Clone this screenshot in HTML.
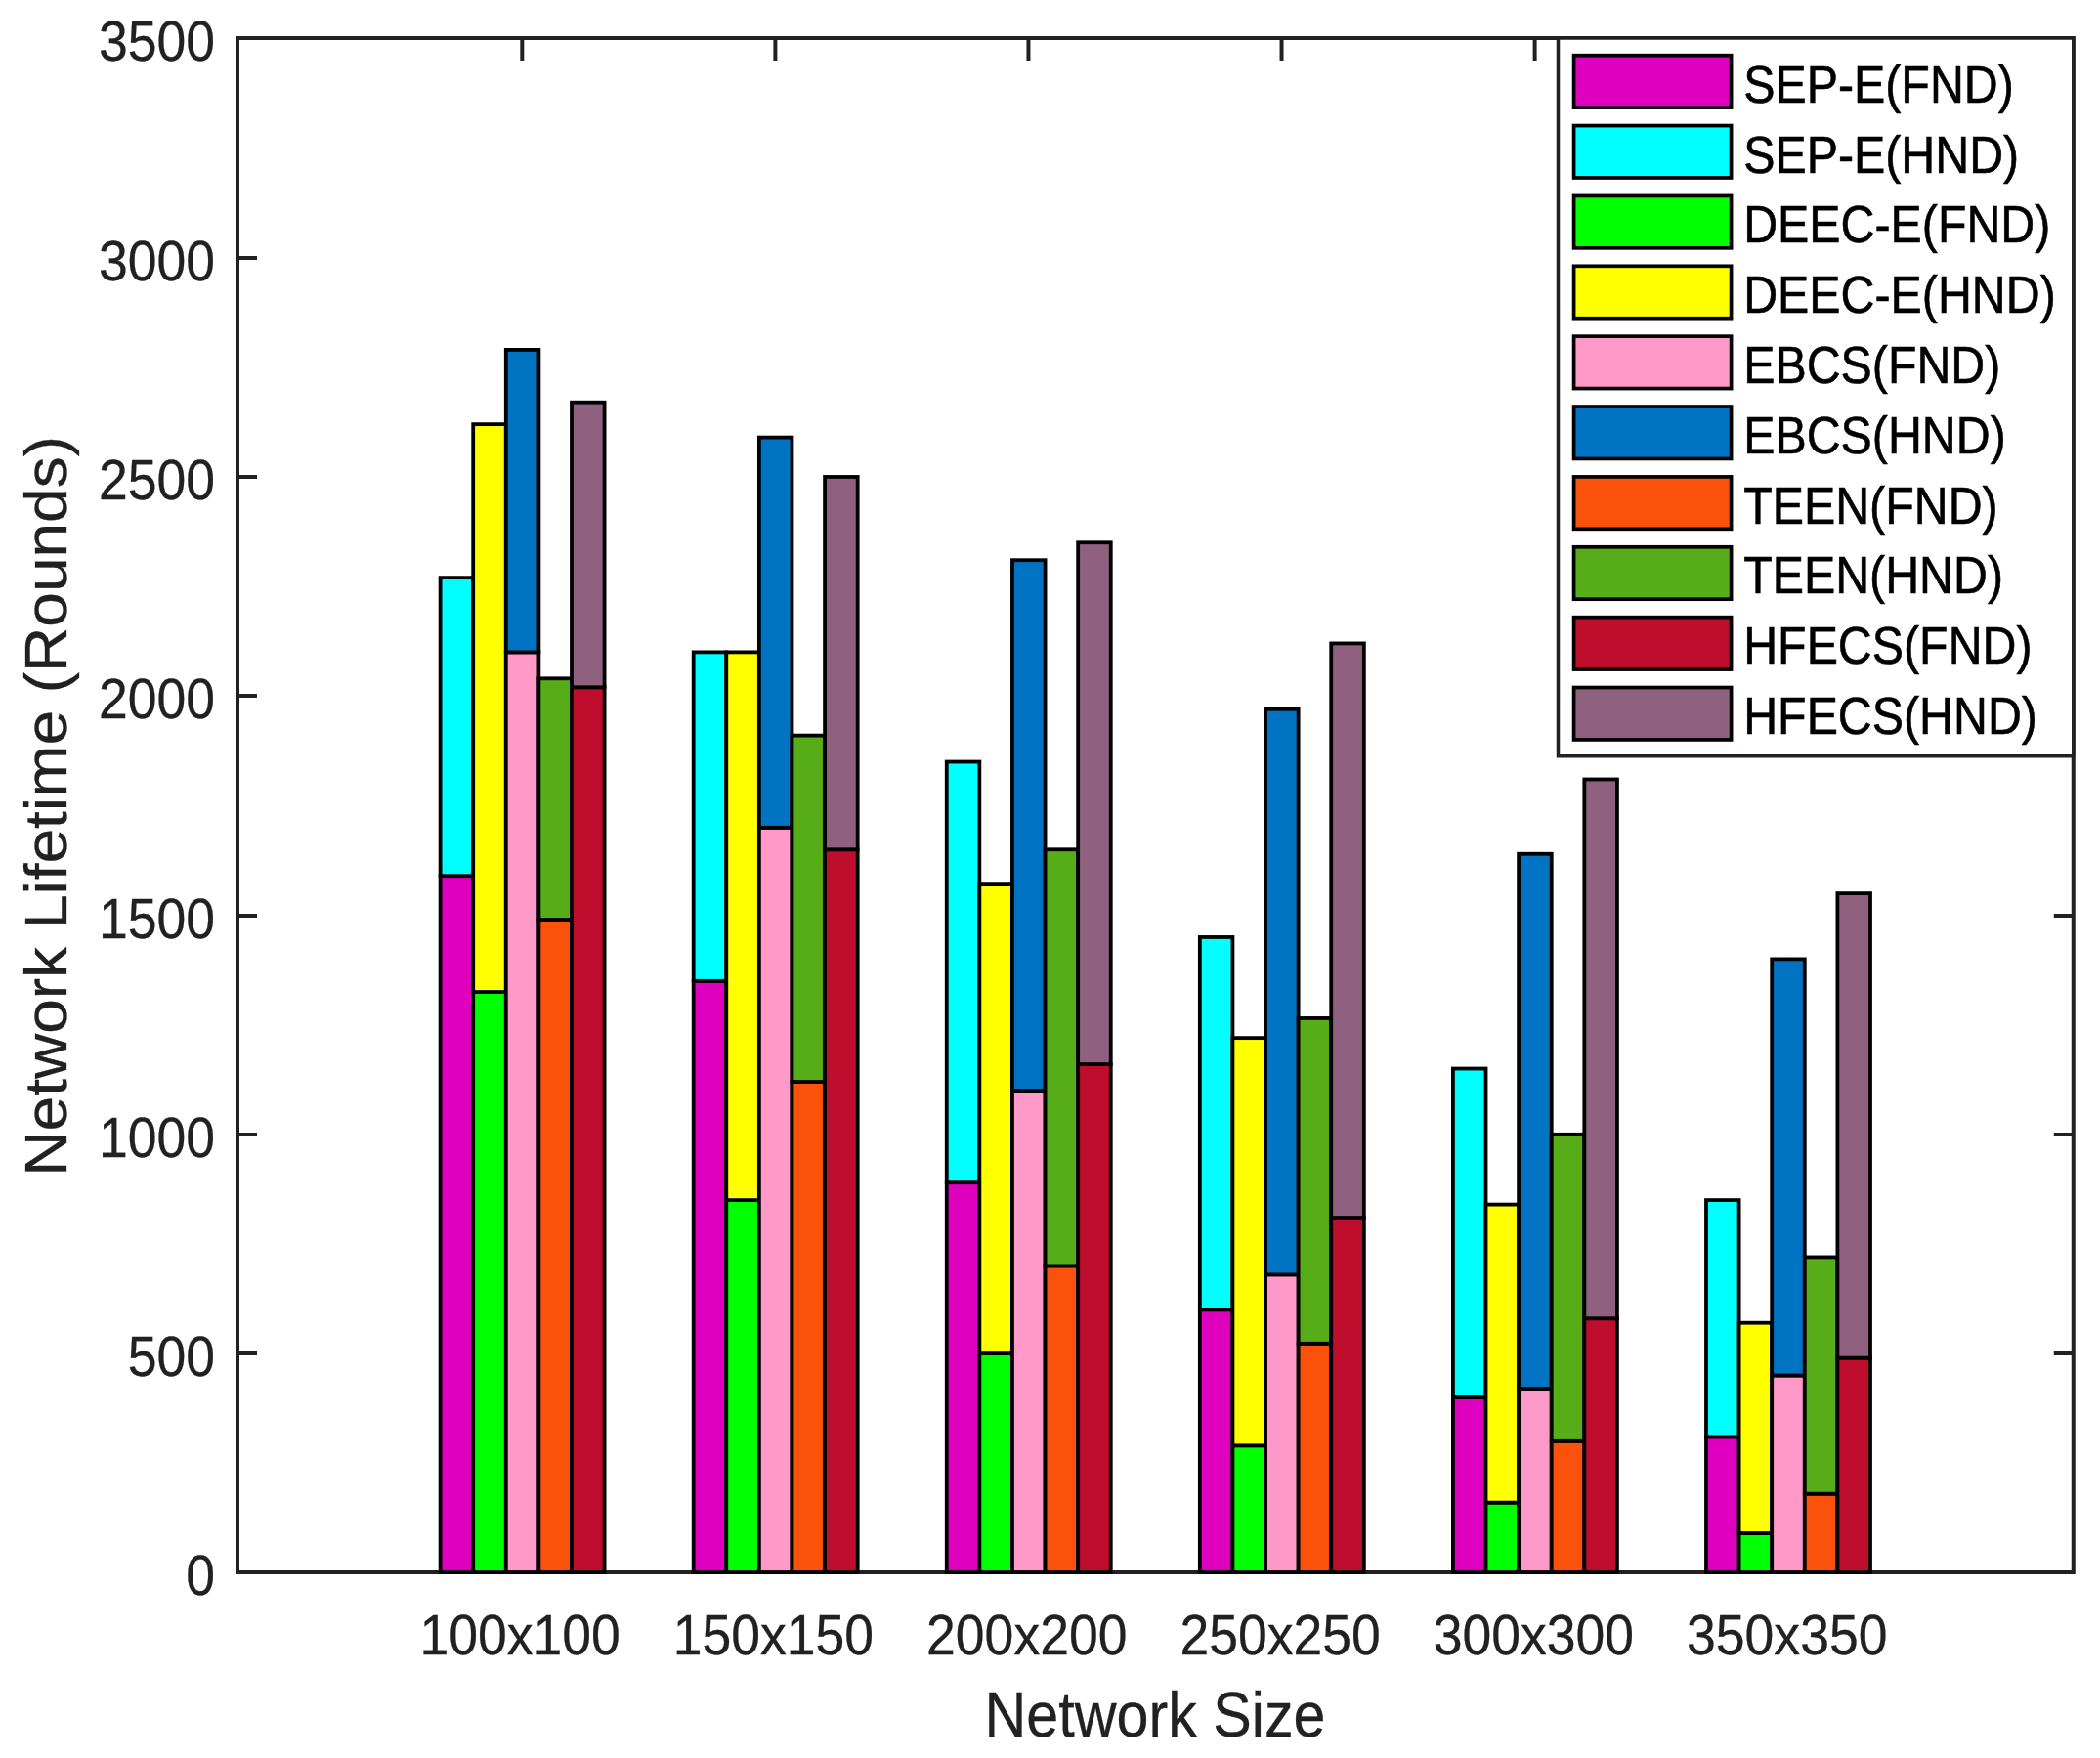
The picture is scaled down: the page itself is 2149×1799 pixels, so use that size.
<!DOCTYPE html>
<html lang="en"><head><meta charset="utf-8"><title>Network Lifetime vs Network Size</title>
<style>html,body{margin:0;padding:0;background:#fff}body{width:2149px;height:1799px;overflow:hidden}svg{display:block}text{font-family:"Liberation Sans",sans-serif}</style></head><body>
<svg width="2149" height="1799" viewBox="0 0 2149 1799">
<rect x="0" y="0" width="2149" height="1799" fill="#fff"/>
<g stroke="#212121" stroke-width="4" fill="none" stroke-linecap="butt">
<rect x="243.00" y="39.00" width="1878.75" height="1570.00" stroke-width="4"/>
<line x1="243.00" y1="1385.00" x2="263.00" y2="1385.00"/>
<line x1="2121.75" y1="1385.00" x2="2101.75" y2="1385.00"/>
<line x1="243.00" y1="1161.00" x2="263.00" y2="1161.00"/>
<line x1="2121.75" y1="1161.00" x2="2101.75" y2="1161.00"/>
<line x1="243.00" y1="937.00" x2="263.00" y2="937.00"/>
<line x1="2121.75" y1="937.00" x2="2101.75" y2="937.00"/>
<line x1="243.00" y1="712.00" x2="263.00" y2="712.00"/>
<line x1="2121.75" y1="712.00" x2="2101.75" y2="712.00"/>
<line x1="243.00" y1="488.00" x2="263.00" y2="488.00"/>
<line x1="2121.75" y1="488.00" x2="2101.75" y2="488.00"/>
<line x1="243.00" y1="264.00" x2="263.00" y2="264.00"/>
<line x1="2121.75" y1="264.00" x2="2101.75" y2="264.00"/>
<line x1="534.30" y1="39.00" x2="534.30" y2="62.00"/>
<line x1="793.38" y1="39.00" x2="793.38" y2="62.00"/>
<line x1="1052.46" y1="39.00" x2="1052.46" y2="62.00"/>
<line x1="1311.54" y1="39.00" x2="1311.54" y2="62.00"/>
<line x1="1570.62" y1="39.00" x2="1570.62" y2="62.00"/>
<line x1="1829.70" y1="39.00" x2="1829.70" y2="62.00"/>
</g>
<g stroke="#000" stroke-width="3.80" stroke-linejoin="miter">
<rect x="450.60" y="896.17" width="33.60" height="712.83" fill="#DF00BF"/>
<rect x="450.60" y="591.14" width="33.60" height="305.03" fill="#00FFFF"/>
<rect x="484.20" y="1015.04" width="33.60" height="593.96" fill="#00FF00"/>
<rect x="484.20" y="434.14" width="33.60" height="580.90" fill="#FFFF00"/>
<rect x="517.80" y="667.40" width="33.60" height="941.60" fill="#FF99C8"/>
<rect x="517.80" y="357.89" width="33.60" height="309.51" fill="#0073C2"/>
<rect x="551.40" y="941.03" width="33.60" height="667.97" fill="#FA520A"/>
<rect x="551.40" y="694.31" width="33.60" height="246.71" fill="#56AD17"/>
<rect x="585.00" y="703.29" width="33.60" height="905.71" fill="#BF0D2E"/>
<rect x="585.00" y="411.71" width="33.60" height="291.57" fill="#8F617E"/>
<rect x="709.68" y="1003.83" width="33.60" height="605.17" fill="#DF00BF"/>
<rect x="709.68" y="667.40" width="33.60" height="336.43" fill="#00FFFF"/>
<rect x="743.28" y="1228.11" width="33.60" height="380.89" fill="#00FF00"/>
<rect x="743.28" y="667.40" width="33.60" height="560.71" fill="#FFFF00"/>
<rect x="776.88" y="846.83" width="33.60" height="762.17" fill="#FF99C8"/>
<rect x="776.88" y="447.60" width="33.60" height="399.23" fill="#0073C2"/>
<rect x="810.48" y="1107.00" width="33.60" height="502.00" fill="#FA520A"/>
<rect x="810.48" y="752.63" width="33.60" height="354.37" fill="#56AD17"/>
<rect x="844.08" y="869.26" width="33.60" height="739.74" fill="#BF0D2E"/>
<rect x="844.08" y="487.97" width="33.60" height="381.29" fill="#8F617E"/>
<rect x="968.76" y="1210.17" width="33.60" height="398.83" fill="#DF00BF"/>
<rect x="968.76" y="779.54" width="33.60" height="430.63" fill="#00FFFF"/>
<rect x="1002.36" y="1385.11" width="33.60" height="223.89" fill="#00FF00"/>
<rect x="1002.36" y="905.14" width="33.60" height="479.97" fill="#FFFF00"/>
<rect x="1035.96" y="1115.97" width="33.60" height="493.03" fill="#FF99C8"/>
<rect x="1035.96" y="573.20" width="33.60" height="542.77" fill="#0073C2"/>
<rect x="1069.56" y="1295.40" width="33.60" height="313.60" fill="#FA520A"/>
<rect x="1069.56" y="869.26" width="33.60" height="426.14" fill="#56AD17"/>
<rect x="1103.16" y="1089.06" width="33.60" height="519.94" fill="#BF0D2E"/>
<rect x="1103.16" y="555.26" width="33.60" height="533.80" fill="#8F617E"/>
<rect x="1227.84" y="1340.26" width="33.60" height="268.74" fill="#DF00BF"/>
<rect x="1227.84" y="958.97" width="33.60" height="381.29" fill="#00FFFF"/>
<rect x="1261.44" y="1479.31" width="33.60" height="129.69" fill="#00FF00"/>
<rect x="1261.44" y="1062.14" width="33.60" height="417.17" fill="#FFFF00"/>
<rect x="1295.04" y="1304.37" width="33.60" height="304.63" fill="#FF99C8"/>
<rect x="1295.04" y="725.71" width="33.60" height="578.66" fill="#0073C2"/>
<rect x="1328.64" y="1374.80" width="33.60" height="234.20" fill="#FA520A"/>
<rect x="1328.64" y="1041.96" width="33.60" height="332.84" fill="#56AD17"/>
<rect x="1362.24" y="1246.06" width="33.60" height="362.94" fill="#BF0D2E"/>
<rect x="1362.24" y="658.43" width="33.60" height="587.63" fill="#8F617E"/>
<rect x="1486.92" y="1429.97" width="33.60" height="179.03" fill="#DF00BF"/>
<rect x="1486.92" y="1093.54" width="33.60" height="336.43" fill="#00FFFF"/>
<rect x="1520.52" y="1537.63" width="33.60" height="71.37" fill="#00FF00"/>
<rect x="1520.52" y="1232.60" width="33.60" height="305.03" fill="#FFFF00"/>
<rect x="1554.12" y="1421.00" width="33.60" height="188.00" fill="#FF99C8"/>
<rect x="1554.12" y="873.74" width="33.60" height="547.26" fill="#0073C2"/>
<rect x="1587.72" y="1474.83" width="33.60" height="134.17" fill="#FA520A"/>
<rect x="1587.72" y="1160.83" width="33.60" height="314.00" fill="#56AD17"/>
<rect x="1621.32" y="1349.23" width="33.60" height="259.77" fill="#BF0D2E"/>
<rect x="1621.32" y="797.49" width="33.60" height="551.74" fill="#8F617E"/>
<rect x="1746.00" y="1470.34" width="33.60" height="138.66" fill="#DF00BF"/>
<rect x="1746.00" y="1228.11" width="33.60" height="242.23" fill="#00FFFF"/>
<rect x="1779.60" y="1569.03" width="33.60" height="39.97" fill="#00FF00"/>
<rect x="1779.60" y="1353.71" width="33.60" height="215.31" fill="#FFFF00"/>
<rect x="1813.20" y="1407.54" width="33.60" height="201.46" fill="#FF99C8"/>
<rect x="1813.20" y="981.40" width="33.60" height="426.14" fill="#0073C2"/>
<rect x="1846.80" y="1528.66" width="33.60" height="80.34" fill="#FA520A"/>
<rect x="1846.80" y="1286.43" width="33.60" height="242.23" fill="#56AD17"/>
<rect x="1880.40" y="1389.60" width="33.60" height="219.40" fill="#BF0D2E"/>
<rect x="1880.40" y="914.11" width="33.60" height="475.49" fill="#8F617E"/>
</g>
<rect x="1594.50" y="39.00" width="527.25" height="734.75" fill="#fff" stroke="#212121" stroke-width="3.5"/>
<rect x="1610.6" y="56.70" width="161" height="53.4" fill="#DF00BF" stroke="#000" stroke-width="3.7"/>
<text transform="translate(1784.20,104.70) scale(0.8970,1)" font-size="53.90" fill="#000" stroke="#000" stroke-width="0.60">SEP-E(FND)</text>
<rect x="1610.6" y="128.57" width="161" height="53.4" fill="#00FFFF" stroke="#000" stroke-width="3.7"/>
<text transform="translate(1784.20,176.52) scale(0.8970,1)" font-size="53.90" fill="#000" stroke="#000" stroke-width="0.60">SEP-E(HND)</text>
<rect x="1610.6" y="200.44" width="161" height="53.4" fill="#00FF00" stroke="#000" stroke-width="3.7"/>
<text transform="translate(1784.20,248.34) scale(0.8970,1)" font-size="53.90" fill="#000" stroke="#000" stroke-width="0.60">DEEC-E(FND)</text>
<rect x="1610.6" y="272.31" width="161" height="53.4" fill="#FFFF00" stroke="#000" stroke-width="3.7"/>
<text transform="translate(1784.20,320.16) scale(0.8970,1)" font-size="53.90" fill="#000" stroke="#000" stroke-width="0.60">DEEC-E(HND)</text>
<rect x="1610.6" y="344.18" width="161" height="53.4" fill="#FF99C8" stroke="#000" stroke-width="3.7"/>
<text transform="translate(1784.20,391.98) scale(0.8970,1)" font-size="53.90" fill="#000" stroke="#000" stroke-width="0.60">EBCS(FND)</text>
<rect x="1610.6" y="416.05" width="161" height="53.4" fill="#0073C2" stroke="#000" stroke-width="3.7"/>
<text transform="translate(1784.20,463.80) scale(0.8970,1)" font-size="53.90" fill="#000" stroke="#000" stroke-width="0.60">EBCS(HND)</text>
<rect x="1610.6" y="487.92" width="161" height="53.4" fill="#FA520A" stroke="#000" stroke-width="3.7"/>
<text transform="translate(1784.20,535.62) scale(0.8970,1)" font-size="53.90" fill="#000" stroke="#000" stroke-width="0.60">TEEN(FND)</text>
<rect x="1610.6" y="559.79" width="161" height="53.4" fill="#56AD17" stroke="#000" stroke-width="3.7"/>
<text transform="translate(1784.20,607.44) scale(0.8970,1)" font-size="53.90" fill="#000" stroke="#000" stroke-width="0.60">TEEN(HND)</text>
<rect x="1610.6" y="631.66" width="161" height="53.4" fill="#BF0D2E" stroke="#000" stroke-width="3.7"/>
<text transform="translate(1784.20,679.26) scale(0.8970,1)" font-size="53.90" fill="#000" stroke="#000" stroke-width="0.60">HFECS(FND)</text>
<rect x="1610.6" y="703.53" width="161" height="53.4" fill="#8F617E" stroke="#000" stroke-width="3.7"/>
<text transform="translate(1784.20,751.08) scale(0.8970,1)" font-size="53.90" fill="#000" stroke="#000" stroke-width="0.60">HFECS(HND)</text>
<g stroke="#212121" stroke-width="0.30">
<text transform="translate(220.00,1632.20) scale(0.9200,1)" font-size="58.20" fill="#212121" text-anchor="end">0</text>
<text transform="translate(220.00,1408.20) scale(0.9200,1)" font-size="58.20" fill="#212121" text-anchor="end">500</text>
<text transform="translate(220.00,1184.20) scale(0.9200,1)" font-size="58.20" fill="#212121" text-anchor="end">1000</text>
<text transform="translate(220.00,960.20) scale(0.9200,1)" font-size="58.20" fill="#212121" text-anchor="end">1500</text>
<text transform="translate(220.00,735.20) scale(0.9200,1)" font-size="58.20" fill="#212121" text-anchor="end">2000</text>
<text transform="translate(220.00,511.20) scale(0.9200,1)" font-size="58.20" fill="#212121" text-anchor="end">2500</text>
<text transform="translate(220.00,287.20) scale(0.9200,1)" font-size="58.20" fill="#212121" text-anchor="end">3000</text>
<text transform="translate(220.00,62.20) scale(0.9200,1)" font-size="58.20" fill="#212121" text-anchor="end">3500</text>
<text transform="translate(532.10,1693.20) scale(0.9200,1)" font-size="58.20" fill="#212121" text-anchor="middle">100x100</text>
<text transform="translate(791.43,1693.20) scale(0.9200,1)" font-size="58.20" fill="#212121" text-anchor="middle">150x150</text>
<text transform="translate(1050.76,1693.20) scale(0.9200,1)" font-size="58.20" fill="#212121" text-anchor="middle">200x200</text>
<text transform="translate(1310.09,1693.20) scale(0.9200,1)" font-size="58.20" fill="#212121" text-anchor="middle">250x250</text>
<text transform="translate(1569.42,1693.20) scale(0.9200,1)" font-size="58.20" fill="#212121" text-anchor="middle">300x300</text>
<text transform="translate(1828.75,1693.20) scale(0.9200,1)" font-size="58.20" fill="#212121" text-anchor="middle">350x350</text>
<text transform="translate(1182.00,1777.00) scale(0.9120,1)" font-size="65.00" fill="#212121" text-anchor="middle">Network Size</text>
<text transform="translate(68.10,824.80) rotate(-90) scale(0.9850,0.9510)" font-size="65.00" fill="#212121" text-anchor="middle">Network Lifetime (Rounds)</text>
</g>
</svg></body></html>
